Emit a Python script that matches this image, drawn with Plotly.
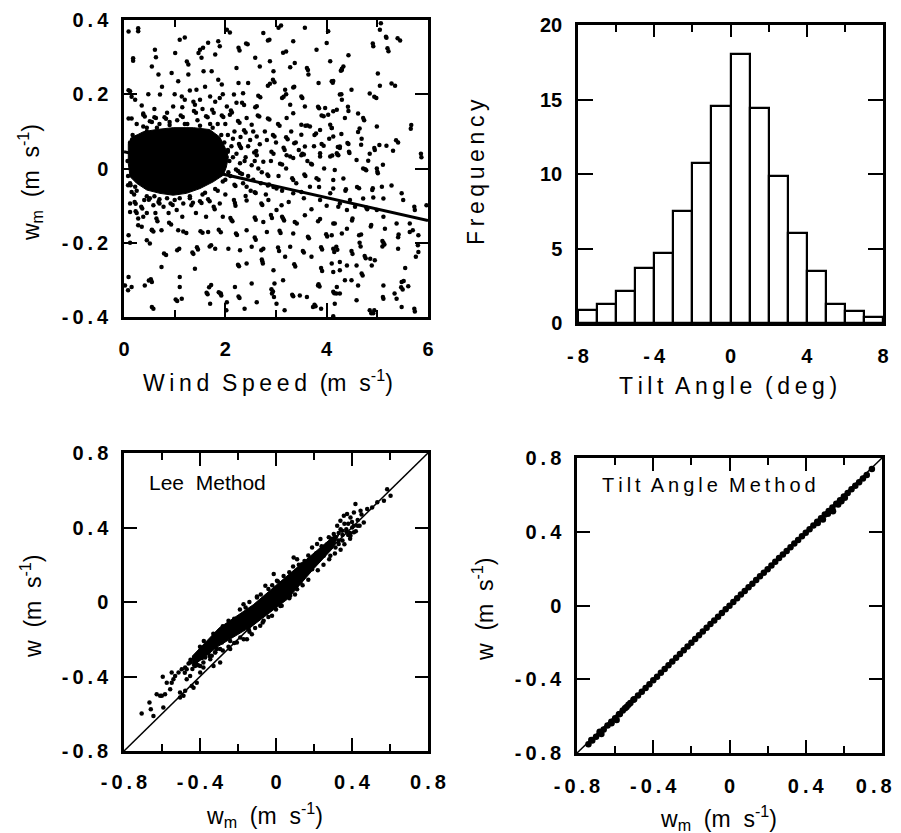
import plotly.graph_objects as go

# ---------------- data: top-left, w_m vs wind speed ----------------
ws = [0.28,0.61,0.63,1.1,1.2,0.18,0.55,0.68,0.94,1.01,1.24,1.27,1.07,1.27,1.47,1.5,1.53,1.56,1.66,1.86,1.89,2.03,2.09,1.80,1.57,1.73,1.86,1.93,1.43,1.14,1.2,0.71,0.22,0.38,0.41,0.12,0.97,1.37,1.40,1.5,1.70,1.74,1.77,1.89,2.03,2.17,2.22,2.26,2.35,2.45,2.59,2.62,2.65,2.69,2.26,2.28,2.41,2.44,2.22,2.33,2.37,2.09,2.59,2.68,2.75,2.84,2.87,2.88,2.95,2.84,2.88,2.94,2.97,3.14,3.2,3.05,3.1,3.34,3.57,3.28,3.37,3.61,3.63,3.64,3.80,3.84,4.03,4.0,4.07,4.1,4.28,4.30,3.18,3.2,3.34,3.36,3.12,3.15,3.28,3.5,3.52,3.57,3.83,3.85,3.97,4.03,4.2,4.26,4.3,4.36,3.67,4.07,3.87,4.13,4.26,
      5.05,5.18,5.45,4.92,5.22,4.43,4.3,4.33,4.12,4.13,5.05,5.35,4.49,4.29,4.94,4.98,4.13,4.43,4.72,4.74,4.99,5.66,4.1,4.29,4.62,4.69,4.41,4.43,4.94,4.95,5.18,5.41,5.31,4.68,4.2,4.21,4.44,4.45,4.59,4.82,5.11,5.87,4.99,4.72,
      4.16,4.33,4.76,4.78,5.0,5.01,4.64,4.6,4.38,4.37,4.91,4.9,5.09,5.28,4.13,4.46,4.72,4.92,5.12,5.48,5.51,4.23,4.40,4.56,4.78,4.8,4.99,4.51,4.5,5.12,5.74,5.97,4.16,4.87,4.88,5.15,5.38,5.64,4.1,4.40,4.64,4.68,4.65,4.67,5.1,5.12,5.14,5.1,5.41,5.42,5.64,5.81,5.81,5.41,4.49,4.51,4.75,4.77,4.86,4.95,4.13,4.15,4.26,4.40,4.59,4.89,4.13,4.36,4.49,4.69,4.71,5.55,4.20,5.12,5.47,5.5,5.61,4.26,4.59,5.12,5.38,5.48,5.74,4.88,4.92,4.13,
      0.08,0.22,0.21,0.23,0.12,0.34,0.36,0.49,0.51,0.58,0.68,0.7,0.78,0.92,0.96,1.04,1.17,1.33,1.36,1.5,1.53,1.66,1.69,1.77,1.79,1.89,0.28,0.35,0.55,0.64,0.66,0.74,0.89,0.93,1.07,1.17,1.23,1.51,1.55,1.66,1.87,1.91,2.1,2.12,2.14,2.21,2.23,0.51,0.79,0.83,1.05,1.09,1.35,1.37,1.44,1.46,1.69,1.72,1.80,2.06,2.29,0.74,1.1,1.40,1.1,0.41,0.55,0.08,1.02,1.05,0.55,1.63,1.65,1.70,1.90,1.92,2.03,2.26,2.28,
      2.21,2.25,2.29,2.33,2.29,2.52,2.62,2.75,2.83,2.85,3.08,3.12,3.21,3.34,3.5,3.69,3.71,3.87,4.07,4.11,4.23,3.32,3.34,3.56,3.58,3.80,3.84,4.13,2.18,2.2,2.42,2.58,2.6,2.84,2.86,3.01,2.17,2.19,2.2,2.4,2.42,2.71,2.73,2.85,3.01,3.11,3.34,3.5,3.67,3.87,4.07,4.26,2.58,2.6,2.75,2.9,2.92,3.12,3.14,3.16,3.37,3.41,3.57,3.83,3.87,4.13,2.42,2.58,2.6,2.82,3.07,3.09,3.34,3.63,3.65,3.99,4.01,4.30,2.52,2.71,2.75,3.04,3.06,3.28,3.53,3.55,3.89,3.91,4.19,4.21,2.25,2.27,2.42,2.72,2.73,2.74,2.95,3.18,3.36,3.38,3.70,3.89,3.91,4.1,4.26,2.19,2.52,2.91,2.94,2.92,3.14,3.32,3.34,3.61,3.84,3.86,4.13,4.15,4.16,3.76,3.78,3.01,2.62,
      0.58,0.49,0.53,0.15,1.14,1.68,1.72,1.87,1.91,2.02,2.38,2.96,2.97,3.17,3.47,3.73,3.83,3.89,4.19,4.62,4.85,4.94,5.11,5.34,5.48,5.52,5.73,5.76,5.8,5.7,5.73,5.86,5.67,5.4,5.17,5.2,5.07,4.91,5.01,4.85,5.28,5.37,5.04,4.85,4.65,4.62,4.42,0.09,0.28,0.09,0.15,0.18,0.15,0.09,0.38,0.13,0.15,0.12,0.23,0.25,0.28,0.38,0.09,0.12,0.55,0.58,0.45,0.09,0.02,
      0.6,0.63,0.8,0.83,1.12,1.16,1.38,1.42,1.62,1.65,1.93,1.96,2.11,2.13,2.25,2.28,2.42,2.52,2.64,2.67,2.84,2.87,3.04,3.07,3.21,3.34,3.5,3.58,3.62,3.5,3.76,3.79,3.9,3.94,4.1,2.37,2.4,2.49,2.62,2.82,2.94,2.97,3.2,3.23,3.36,3.39,3.57,3.9,3.94,4.22,4.26,2.27,2.29,2.31,2.57,2.61,2.91,2.95,3.15,3.17,3.28,3.52,3.55,3.87,0.17,0.19,0.16,0.15,0.18,0.38,0.51,0.55,0.32,
      2.05,2.08,2.1,2.15,2.0,1.98,2.15,2.4,2.45,2.55,2.65,2.7,
      2.05,2.12,2.18,2.22,2.3,2.35,2.38,2.45,2.5,2.55,2.58,2.68,2.72,2.78,2.8,2.9,2.95,3.0,3.05,3.12,3.2,3.25,3.3,3.4,3.45,3.55,3.62,3.7,3.75,3.85,3.95,4.0,4.05,
      0.25,0.35,0.45,0.48,0.6,0.7,0.75,0.85,0.9,1.0,1.05,1.15,1.25,1.3,1.45,1.55,1.6,1.7,1.8,1.85,1.95,2.0,
      0.2,0.4,0.45,0.6,0.62,0.85,0.88,1.1,1.15,1.3,1.42,1.6,1.62,1.85,1.95,2.0,
      0.07,0.08,0.12,0.25,0.45,0.65,0.9,1.2,1.5,1.75,1.92,2.05,2.06,1.95,1.8,1.55,1.3,1.0,0.7,0.45,0.25,0.12]
wm = [0.37,0.32,0.30,0.347,0.353,0.29,0.275,0.253,0.257,0.311,0.288,0.28,0.235,0.253,0.311,0.32,0.298,0.325,0.339,0.343,0.329,0.374,0.366,0.307,0.262,0.262,0.239,0.226,0.212,0.194,0.185,0.199,0.185,0.145,0.14,0.208,0.167,0.18,0.172,0.185,0.194,0.158,0.15,0.19,0.167,0.199,0.177,0.23,0.203,0.23,0.165,0.168,0.196,0.192,0.325,0.318,0.337,0.335,0.271,0.177,0.171,0.145,0.298,0.275,0.365,0.345,0.347,0.289,0.262,0.223,0.228,0.239,0.232,0.312,0.315,0.379,0.385,0.343,0.379,0.273,0.284,0.271,0.265,0.253,0.32,0.23,0.37,0.338,0.289,0.235,0.263,0.265,0.212,0.2,0.218,0.22,0.19,0.193,0.172,0.194,0.19,0.167,0.166,0.162,0.163,0.145,0.158,0.199,0.185,0.136,0.113,0.118,0.104,0.086,0.059,
      0.374,0.352,0.345,0.329,0.316,0.305,0.269,0.275,0.231,0.236,0.223,0.223,0.212,0.2,0.193,0.19,0.154,0.155,0.136,0.13,0.113,0.107,0.109,0.093,0.098,0.08,0.069,0.066,0.055,0.05,0.061,0.07,0.048,0.064,0.041,0.038,0.045,0.042,0.023,0.021,0.01,0.03,0.0,0.0,
      -0.004,-0.027,-0.002,-0.005,-0.009,-0.013,-0.053,-0.05,-0.056,-0.06,-0.053,-0.058,-0.049,-0.046,-0.054,-0.085,-0.081,-0.078,-0.081,-0.067,-0.085,-0.103,-0.112,-0.103,-0.105,-0.11,-0.112,-0.135,-0.14,-0.13,-0.112,-0.099,-0.148,-0.156,-0.152,-0.162,-0.148,-0.148,-0.18,-0.162,-0.18,-0.178,-0.2,-0.21,-0.195,-0.2,-0.205,-0.21,-0.185,-0.178,-0.171,-0.18,-0.225,-0.216,-0.222,-0.23,-0.236,-0.242,-0.243,-0.247,-0.216,-0.225,-0.252,-0.261,-0.261,-0.261,-0.279,-0.301,-0.301,-0.283,-0.288,-0.268,-0.319,-0.315,-0.32,-0.326,-0.317,-0.337,-0.355,-0.351,-0.351,-0.373,-0.385,-0.39,-0.39,-0.398,
      -0.045,-0.049,-0.09,-0.095,-0.117,-0.103,-0.108,-0.084,-0.08,-0.099,-0.09,-0.094,-0.103,-0.094,-0.098,-0.112,-0.094,-0.099,-0.092,-0.088,-0.093,-0.083,-0.088,-0.103,-0.11,-0.094,-0.135,-0.157,-0.166,-0.135,-0.142,-0.166,-0.146,-0.151,-0.166,-0.17,-0.174,-0.169,-0.173,-0.171,-0.165,-0.172,-0.133,-0.139,-0.142,-0.175,-0.179,-0.202,-0.229,-0.233,-0.22,-0.216,-0.226,-0.23,-0.212,-0.218,-0.21,-0.207,-0.216,-0.216,-0.22,-0.265,-0.292,-0.27,-0.319,-0.315,-0.306,-0.328,-0.353,-0.357,-0.373,-0.335,-0.339,-0.364,-0.337,-0.342,-0.36,-0.345,-0.349,
      -0.003,-0.007,-0.012,-0.015,0.014,0.009,0.036,0.018,-0.016,-0.02,0.013,0.011,0.036,0.028,0.036,0.013,0.011,0.032,0.032,0.035,0.036,-0.026,-0.031,-0.016,-0.02,-0.026,-0.03,-0.031,-0.044,-0.047,-0.049,-0.064,-0.066,-0.046,-0.043,-0.054,-0.085,-0.093,-0.1,-0.074,-0.086,-0.094,-0.098,-0.085,-0.112,-0.099,-0.067,-0.063,-0.049,-0.085,-0.067,-0.094,-0.132,-0.138,-0.144,-0.125,-0.133,-0.13,-0.135,-0.14,-0.144,-0.148,-0.126,-0.142,-0.136,-0.148,-0.166,-0.186,-0.192,-0.171,-0.168,-0.174,-0.175,-0.184,-0.188,-0.177,-0.183,-0.175,-0.211,-0.22,-0.216,-0.213,-0.222,-0.211,-0.222,-0.226,-0.212,-0.218,-0.211,-0.219,-0.259,-0.263,-0.256,-0.245,-0.25,-0.256,-0.274,-0.238,-0.258,-0.264,-0.238,-0.268,-0.276,-0.256,-0.274,-0.319,-0.31,-0.325,-0.331,-0.337,-0.301,-0.34,-0.344,-0.346,-0.312,-0.318,-0.332,-0.336,-0.364,-0.367,-0.371,-0.364,-0.36,
      -0.378,-0.302,-0.298,-0.319,-0.351,-0.32,-0.314,-0.333,-0.337,-0.382,-0.378,-0.346,-0.31,-0.382,-0.342,-0.373,-0.315,-0.378,-0.337,-0.315,-0.382,-0.382,-0.346,-0.337,-0.306,-0.303,-0.378,-0.238,-0.207,-0.166,-0.103,0.04,0.117,0.351,0.355,0.324,0.391,0.337,0.256,0.202,0.229,0.076,0.063,0.04,0.108,0.148,0.166,0.369,0.378,0.211,0.193,0.297,0.135,0.135,0.148,-0.045,-0.063,-0.094,-0.115,-0.12,-0.153,-0.13,-0.18,-0.2,-0.165,-0.17,-0.193,-0.292,-0.315,
      0.138,0.136,0.138,0.134,0.143,0.139,0.155,0.15,0.141,0.138,0.143,0.139,0.156,0.151,0.128,0.123,0.136,0.118,0.143,0.14,0.135,0.132,0.12,0.115,0.136,0.149,0.118,0.115,0.116,0.091,0.09,0.094,0.143,0.141,0.109,0.103,0.097,0.077,0.086,0.077,0.09,0.086,0.084,0.079,0.068,0.07,0.059,0.066,0.061,0.058,0.055,0.066,0.06,0.055,0.043,0.047,0.045,0.04,0.056,0.05,0.032,0.04,0.038,0.041,0.09,0.083,0.078,0.058,0.055,0.113,0.127,0.125,0.082,
      0.05,0.02,-0.02,0.03,-0.03,0.07,0.08,0.03,-0.02,-0.03,0.0,-0.04,
      0.09,0.06,0.1,0.04,0.085,-0.04,0.02,0.06,-0.06,0.1,0.02,0.065,-0.01,0.1,-0.07,0.02,-0.05,0.07,-0.02,-0.06,0.0,-0.09,0.1,-0.04,0.05,-0.08,0.02,-0.11,0.06,-0.05,0.0,-0.1,0.08,
      0.12,0.17,0.11,0.2,0.16,0.12,0.22,0.15,0.125,0.2,0.13,0.165,0.12,0.21,0.13,0.16,0.22,0.12,0.18,0.12,0.2,0.12,
      -0.07,-0.085,-0.12,-0.075,-0.12,-0.08,-0.12,-0.08,-0.13,-0.075,-0.12,-0.065,-0.13,-0.06,-0.13,-0.07,
      0.02,-0.02,0.07,0.085,0.1,0.11,0.117,0.12,0.115,0.11,0.09,0.045,-0.01,-0.035,-0.055,-0.07,-0.08,-0.085,-0.083,-0.075,-0.06,-0.04]
# outline of the saturated (solid black) cloud of low-wind points
core_ws = [0.085,0.18,0.38,0.64,0.97,1.37,1.69,1.89,1.99,2.06,2.02,1.96,1.76,1.5,1.23,0.97,0.71,0.45,0.25,0.12,0.085,0.085]
core_wm = [0.067,0.085,0.099,0.105,0.11,0.11,0.105,0.085,0.058,0.031,0.004,-0.018,-0.036,-0.054,-0.067,-0.072,-0.067,-0.058,-0.04,-0.022,0.013,0.067]
# regression line
fit_ws = [0, 6]
fit_wm = [0.045, -0.14]

# ---------------- data: top-right, tilt angle histogram ----------------
tilt_bin_left = [-8,-7,-6,-5,-4,-3,-2,-1,0,1,2,3,4,5,6,7]
tilt_freq = [0.85,1.3,2.15,3.7,4.7,7.5,10.77,14.58,18.05,14.4,9.88,6.05,3.47,1.3,0.8,0.4]

# ---------------- data: bottom-left, Lee method ----------------
lee_wm = [-0.707,-0.666,-0.659,-0.593,-0.596,-0.549,-0.531,-0.540,-0.601,-0.584,-0.557,-0.549,-0.496,-0.478,-0.470,-0.452,-0.443,-0.487,-0.505,-0.434,-0.417,-0.399,-0.408,-0.382,-0.373,-0.355,-0.329,-0.338,-0.311,-0.294,-0.285,-0.259,-0.241,-0.215,-0.171,-0.162,-0.153,-0.100,-0.056,-0.012,0.005,0.093,0.111,0.137,0.190,0.216,0.234,0.260,0.278,0.286,0.304,0.322,0.339,0.348,0.357,0.374,0.392,0.410,0.418,0.445,0.462,0.480,0.506,0.533,0.568,0.585,0.603,0.392,0.401,0.410,0.330,0.313,0.251,0.199,0.190,0.163,0.128,0.111,0.075,0.023,-0.021,-0.065,-0.083,-0.127,-0.144,-0.188,-0.206,-0.241,-0.276,-0.294,-0.320,-0.346,-0.364,-0.382,-0.399,-0.426,-0.452,-0.470,-0.513,-0.575,-0.628,-0.610,-0.645,-0.505,-0.478,
          -0.4,-0.38,-0.33,-0.31,-0.28,-0.25,-0.22,-0.19,-0.16,-0.14,-0.1,-0.08,-0.04,-0.02,0.01,0.04,0.07,0.09,0.12,0.15,0.17,0.21,0.24,0.27,0.29,0.33,0.35,0.37,0.38,0.43,
          -0.42,-0.39,-0.35,-0.32,-0.28,-0.25,-0.22,-0.17,-0.14,-0.11,-0.07,-0.04,0.0,0.03,0.07,0.1,0.14,0.17,0.22,0.25,0.28,0.31,0.34,0.36,0.39,0.42,0.44,
          0.31,0.33,0.35,0.37,0.39,0.41,0.34,0.38,0.40,0.43,0.45,0.36,-0.46,-0.44,-0.48,-0.43,-0.41,-0.45]
lee_w = [-0.599,-0.540,-0.576,-0.567,-0.402,-0.379,-0.397,-0.415,-0.504,-0.495,-0.469,-0.433,-0.361,-0.352,-0.415,-0.397,-0.451,-0.504,-0.513,-0.460,-0.433,-0.343,-0.307,-0.325,-0.298,-0.271,-0.343,-0.289,-0.253,-0.325,-0.218,-0.182,-0.253,-0.155,-0.012,-0.110,-0.200,0.024,0.087,0.150,0.114,0.239,0.230,0.203,0.293,0.311,0.338,0.284,0.347,0.248,0.365,0.409,0.436,0.383,0.463,0.472,0.454,0.481,0.526,0.490,0.427,0.499,0.508,0.535,0.544,0.606,0.571,0.356,0.400,0.374,0.311,0.293,0.248,0.212,0.176,0.159,0.105,0.069,0.033,-0.021,-0.074,-0.101,-0.128,-0.173,-0.146,-0.191,-0.218,-0.209,-0.200,-0.253,-0.271,-0.307,-0.253,-0.352,-0.379,-0.343,-0.325,-0.361,-0.379,-0.433,-0.495,-0.504,-0.612,-0.486,-0.477,
         -0.24,-0.21,-0.17,-0.2,-0.13,-0.1,-0.09,-0.04,-0.03,0.0,0.03,0.04,0.07,0.09,0.11,0.14,0.16,0.19,0.2,0.22,0.25,0.26,0.3,0.31,0.34,0.33,0.36,0.38,0.42,0.44,
         -0.33,-0.3,-0.29,-0.27,-0.26,-0.24,-0.22,-0.2,-0.16,-0.14,-0.11,-0.08,-0.04,-0.02,0.02,0.04,0.09,0.12,0.17,0.2,0.23,0.26,0.28,0.31,0.34,0.38,0.41,
         0.35,0.37,0.33,0.39,0.37,0.41,0.39,0.36,0.43,0.41,0.47,0.42,-0.33,-0.36,-0.38,-0.3,-0.34,-0.31]
# outline of the saturated band of points
lee_core_wm = [-0.44,-0.3,-0.12,0.06,0.2,0.3,0.33,0.3,0.2,0.06,-0.12,-0.3,-0.44,-0.44]
lee_core_w = [-0.29,-0.14,-0.015,0.14,0.265,0.35,0.36,0.29,0.18,0.015,-0.125,-0.235,-0.345,-0.29]

# ---------------- data: bottom-right, tilt angle method ----------------
ta_wm = [-0.74,-0.72,-0.70,-0.68,-0.66,-0.64,-0.62,-0.60,-0.58,-0.56,-0.54,-0.52,-0.50,-0.48,-0.46,-0.44,-0.42,-0.40,-0.38,-0.36,-0.34,-0.32,-0.30,-0.28,-0.26,-0.24,-0.22,-0.20,-0.18,-0.16,-0.14,-0.12,-0.10,-0.08,-0.06,-0.04,-0.02,0.00,0.02,0.04,0.06,0.08,0.10,0.12,0.14,0.16,0.18,0.20,0.22,0.24,0.26,0.28,0.30,0.32,0.34,0.36,0.38,0.40,0.42,0.44,0.46,0.48,0.50,0.52,0.54,0.56,0.58,0.60,0.62,0.64,0.66,0.68,0.70,0.72,
         -0.725,-0.681,-0.672,-0.619,-0.592,-0.575,-0.548,-0.530,-0.504,0.463,0.490,0.516,0.543,0.570,0.587,0.605,0.747]
ta_w = [-0.752,-0.732,-0.712,-0.692,-0.672,-0.651,-0.631,-0.611,-0.590,-0.570,-0.550,-0.529,-0.509,-0.488,-0.468,-0.447,-0.427,-0.406,-0.386,-0.365,-0.345,-0.324,-0.304,-0.284,-0.263,-0.243,-0.222,-0.202,-0.182,-0.161,-0.141,-0.121,-0.101,-0.081,-0.061,-0.041,-0.021,-0.001,0.019,0.039,0.059,0.079,0.099,0.118,0.138,0.158,0.178,0.197,0.217,0.237,0.257,0.277,0.296,0.316,0.336,0.355,0.375,0.395,0.414,0.434,0.454,0.473,0.493,0.512,0.532,0.552,0.571,0.591,0.610,0.630,0.649,0.669,0.689,0.708,
        -0.730,-0.685,-0.697,-0.639,-0.621,-0.588,-0.557,-0.538,-0.511,0.448,0.466,0.497,0.511,0.548,0.566,0.585,0.740]
diag = [-0.8, 0.8]

# ---------------- styling ----------------
FONT = "Liberation Sans, Arial, sans-serif"
TS = "\u2009"  # thin space for letter tracking
NB = "\u00a0"

def track(s):
    return TS.join(list(s))

def spaced(lbl):
    return TS.join(list(lbl))

W, H = 901, 833
OX, OY = 8, 8   # the page body adds an 8px margin; positions below are page pixels

def xd(a, b):
    return [(a - OX) / W, (b - OX) / W]

def yd(top, bot):
    return [1 - (bot - OY) / H, 1 - (top - OY) / H]

fig = go.Figure()

fig.add_trace(go.Scatter(x=core_ws, y=core_wm, mode="lines", fill="toself", fillcolor="black",
                         line=dict(color="black", width=1), xaxis="x", yaxis="y", hoverinfo="skip"))
fig.add_trace(go.Scatter(x=ws, y=wm, mode="markers", marker=dict(size=4.5, color="black"),
                         xaxis="x", yaxis="y"))
fig.add_trace(go.Scatter(x=fit_ws, y=fit_wm, mode="lines", line=dict(color="black", width=3),
                         xaxis="x", yaxis="y"))

fig.add_trace(go.Bar(x=tilt_bin_left, y=tilt_freq, width=1, offset=0,
                     marker=dict(color="white", line=dict(color="black", width=2.2)),
                     xaxis="x2", yaxis="y2"))

fig.add_trace(go.Scatter(x=diag, y=diag, mode="lines", line=dict(color="black", width=1.5),
                         xaxis="x3", yaxis="y3"))
fig.add_trace(go.Scatter(x=lee_core_wm, y=lee_core_w, mode="lines", fill="toself", fillcolor="black",
                         line=dict(color="black", width=1), xaxis="x3", yaxis="y3", hoverinfo="skip"))
fig.add_trace(go.Scatter(x=lee_wm, y=lee_w, mode="markers", marker=dict(size=4.5, color="black"),
                         xaxis="x3", yaxis="y3"))

fig.add_trace(go.Scatter(x=diag, y=diag, mode="lines", line=dict(color="black", width=1.5),
                         xaxis="x4", yaxis="y4"))
fig.add_trace(go.Scatter(x=ta_wm, y=ta_w, mode="markers", marker=dict(size=6.5, color="black"),
                         xaxis="x4", yaxis="y4"))

def axis(domain, rng, vals, texts, anchor, minor_vals=None, ticklen=13, standoff=6, fsize=20):
    d = dict(domain=domain, range=rng, tickmode="array", tickvals=vals, ticktext=texts,
             ticks="inside", ticklen=ticklen, tickwidth=2, tickcolor="black",
             showline=True, linecolor="black", linewidth=2.5, mirror="ticks",
             showgrid=False, zeroline=False,
             tickfont=dict(family=FONT, size=fsize, color="black", weight="bold"), anchor=anchor,
             ticklabelstandoff=standoff, fixedrange=True, automargin=False)
    if minor_vals is not None:
        d["minor"] = dict(tickmode="array", tickvals=minor_vals, ticks="inside", ticklen=7,
                          tickwidth=2, tickcolor="black", showgrid=False)
    return d

lab = lambda v: [spaced(s) for s in v]
br_x_labels = lab(["-0.8", "-0.4", "0", "0.4", "0.8"])
br_x_labels[-1] = br_x_labels[-1] + NB * 3   # keep the last label inside the visible page

fig.update_layout(
    template="none",
    width=W, height=H, margin=dict(l=0, r=0, t=0, b=0, autoexpand=False),
    paper_bgcolor="white", plot_bgcolor="white", showlegend=False, bargap=0,
    xaxis=axis(xd(124, 428), [0, 6], [0, 2, 4, 6], ["0", "2", "4", "6"], "y", [1, 3, 5], 14, 12),
    yaxis=axis(yd(20, 317), [-0.4, 0.4], [-0.4, -0.2, 0, 0.2, 0.4],
               lab(["-0.4", "-0.2", "0", "0.2", "0.4"]), "x", None, 13, 9),
    xaxis2=axis(xd(578, 883), [-8, 8], [-8, -4, 0, 4, 8], lab(["-8", "-4", "0", "4", "8"]), "y2",
                [-6, -2, 2, 6], 12, 13),
    yaxis2=axis(yd(25, 323), [0, 20], [0, 5, 10, 15, 20], ["0", "5", "10", "15", "20"], "x2", None, 15, 9),
    xaxis3=axis(xd(124, 428), [-0.8, 0.8], [-0.8, -0.4, 0, 0.4, 0.8],
                lab(["-0.8", "-0.4", "0", "0.4", "0.8"]), "y3", [-0.6, -0.2, 0.2, 0.6], 13, 11),
    yaxis3=axis(yd(453, 751), [-0.8, 0.8], [-0.8, -0.4, 0, 0.4, 0.8],
                lab(["-0.8", "-0.4", "0", "0.4", "0.8"]), "x3", None, 13, 9),
    xaxis4=axis(xd(577, 882), [-0.8, 0.8], [-0.8, -0.4, 0, 0.4, 0.8],
                br_x_labels, "y4", [-0.6, -0.2, 0.2, 0.6], 13, 13, 20),
    yaxis4=axis(yd(458, 753), [-0.8, 0.8], [-0.8, -0.4, 0, 0.4, 0.8],
                lab(["-0.8", "-0.4", "0", "0.4", "0.8"]), "x4", None, 13, 9),
)

def ann(text, x, y, angle=0, xanchor="center", size=23):
    fig.add_annotation(text=text, x=(x - OX) / W, y=1 - (y - OY) / H, xref="paper", yref="paper",
                       showarrow=False, textangle=angle, xanchor=xanchor, yanchor="middle",
                       font=dict(family=FONT, size=size, color="black"))

ann(track("Wind") + "  " + track("Speed") + "  (m  s<sup>-1</sup>)", 268, 381)
ann("w<sub>m</sub>  (m  s<sup>-1</sup>)", 30, 183, -90)
ann(track("Tilt") + "  " + track("Angle") + "  " + track("(deg)"), 728, 386)
ann(track("Frequency"), 476, 172, -90)
ann("w<sub>m</sub>  (m  s<sup>-1</sup>)", 264, 815)
ann("w  (m  s<sup>-1</sup>)", 31, 607, -90)
ann("w<sub>m</sub>  (m  s<sup>-1</sup>)", 718, 818)
ann("w  (m  s<sup>-1</sup>)", 483, 610, -90)
ann("Lee  Method", 147, 482, 0, "left", 21)
ann(track("Tilt") + "  " + track("Angle") + "  " + track("Method"), 600, 485, 0, "left", 20)

fig.write_html("out.html")
